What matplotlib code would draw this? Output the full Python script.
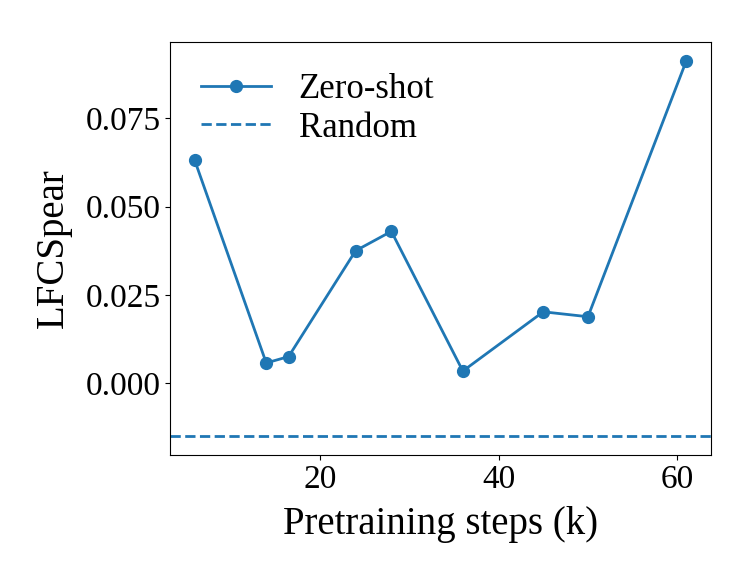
import matplotlib
matplotlib.use('Agg')
import matplotlib.pyplot as plt

# 事前学習ステップ数 (k) と LFCSpear
steps = [6, 14, 16.5, 24, 28, 36, 45, 50, 61]
zero_shot = [0.0631, 0.0057, 0.0075, 0.0375, 0.0430, 0.0034, 0.0202, 0.0188, 0.0913]
random_baseline = -0.0150

plt.rcParams['font.family'] = ['Liberation Serif', 'DejaVu Serif']

fig = plt.figure(figsize=(7.53, 5.86), dpi=100)
ax = fig.add_axes([0.226, 0.224, 0.718, 0.704])

ax.plot(steps, zero_shot, color='#1f77b4', marker='o', linewidth=2, markersize=8.5, label='Zero-shot')
ax.axhline(random_baseline, color='#1f77b4', linestyle='--', linewidth=2, label='Random')

ax.set_xticks([20, 40, 60])
ax.set_yticks([0.0, 0.025, 0.05, 0.075])
ax.tick_params(labelsize=24)
ax.set_xlabel('Pretraining steps (k)', fontsize=28, labelpad=8)
ax.set_ylabel('LFCSpear', fontsize=28, labelpad=10)
ax.legend(fontsize=25, frameon=False, loc='upper left', labelspacing=0.15)

fig.savefig('out.png', dpi=100)
